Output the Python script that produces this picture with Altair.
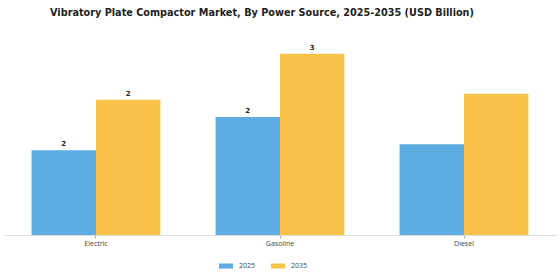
import altair as alt
import pandas as pd

categories = ["Electric", "Gasoline", "Diesel"]
years = ["2025", "2035"]
values_2025 = [1.53, 2.13, 1.64]
values_2035 = [2.44, 3.27, 2.55]
label_2025 = ["2", "2", ""]
label_2035 = ["2", "3", ""]

rows = []
for i, c in enumerate(categories):
    rows.append({"Category": c, "Year": "2025", "Value": values_2025[i], "Label": label_2025[i]})
    rows.append({"Category": c, "Year": "2035", "Value": values_2035[i], "Label": label_2035[i]})
df = pd.DataFrame(rows)

colors = ["#5DADE2", "#F7C14A"]

x = alt.X("Category:N", sort=categories, title=None,
          scale=alt.Scale(paddingInner=0.3, paddingOuter=0.15),
          axis=alt.Axis(labelAngle=0, labelFontSize=7, labelColor="#444", labelFont="Open Sans",
                        domainColor="#dddddd", tickColor="#aaaaaa", tickSize=3, labelPadding=1))
y = alt.Y("Value:Q", title=None, scale=alt.Scale(domain=[0, 3.7], nice=False),
          axis=None)

bars = alt.Chart(df).mark_bar().encode(
    x=x,
    xOffset=alt.XOffset("Year:N", sort=years),
    y=y,
    color=alt.Color("Year:N", sort=years, scale=alt.Scale(domain=years, range=colors),
                    legend=alt.Legend(title=None, orient="none", direction="horizontal",
                                      legendX=214, legendY=228,
                                      symbolType="M-1,-0.36H1V0.36H-1Z", symbolSize=196,
                                      labelFontSize=7, labelFont="Open Sans", labelColor="#444",
                                      columnPadding=14, labelOffset=5)),
)

text = alt.Chart(df).mark_text(dy=-6, fontSize=7, fontWeight="bold", font="DejaVu Sans", color="#222").encode(
    x=alt.X("Category:N", sort=categories),
    xOffset=alt.XOffset("Year:N", sort=years),
    y=alt.Y("Value:Q"),
    text="Label:N",
)

chart = alt.layer(bars, text).properties(
    width=552, height=205,
    title=alt.Title("Vibratory Plate Compactor Market, By Power Source, 2025-2035 (USD Billion)",
                    fontSize=9.7, font="DejaVu Sans", fontWeight="bold", color="#222",
                    anchor="middle", offset=12, dx=-18),
    autosize=alt.AutoSizeParams(type="none"),
    padding={"left": 4, "top": 30, "right": 4, "bottom": 45},
).configure_view(stroke=None)

chart.save("out.html", embed_options={"renderer": "svg", "actions": False})
